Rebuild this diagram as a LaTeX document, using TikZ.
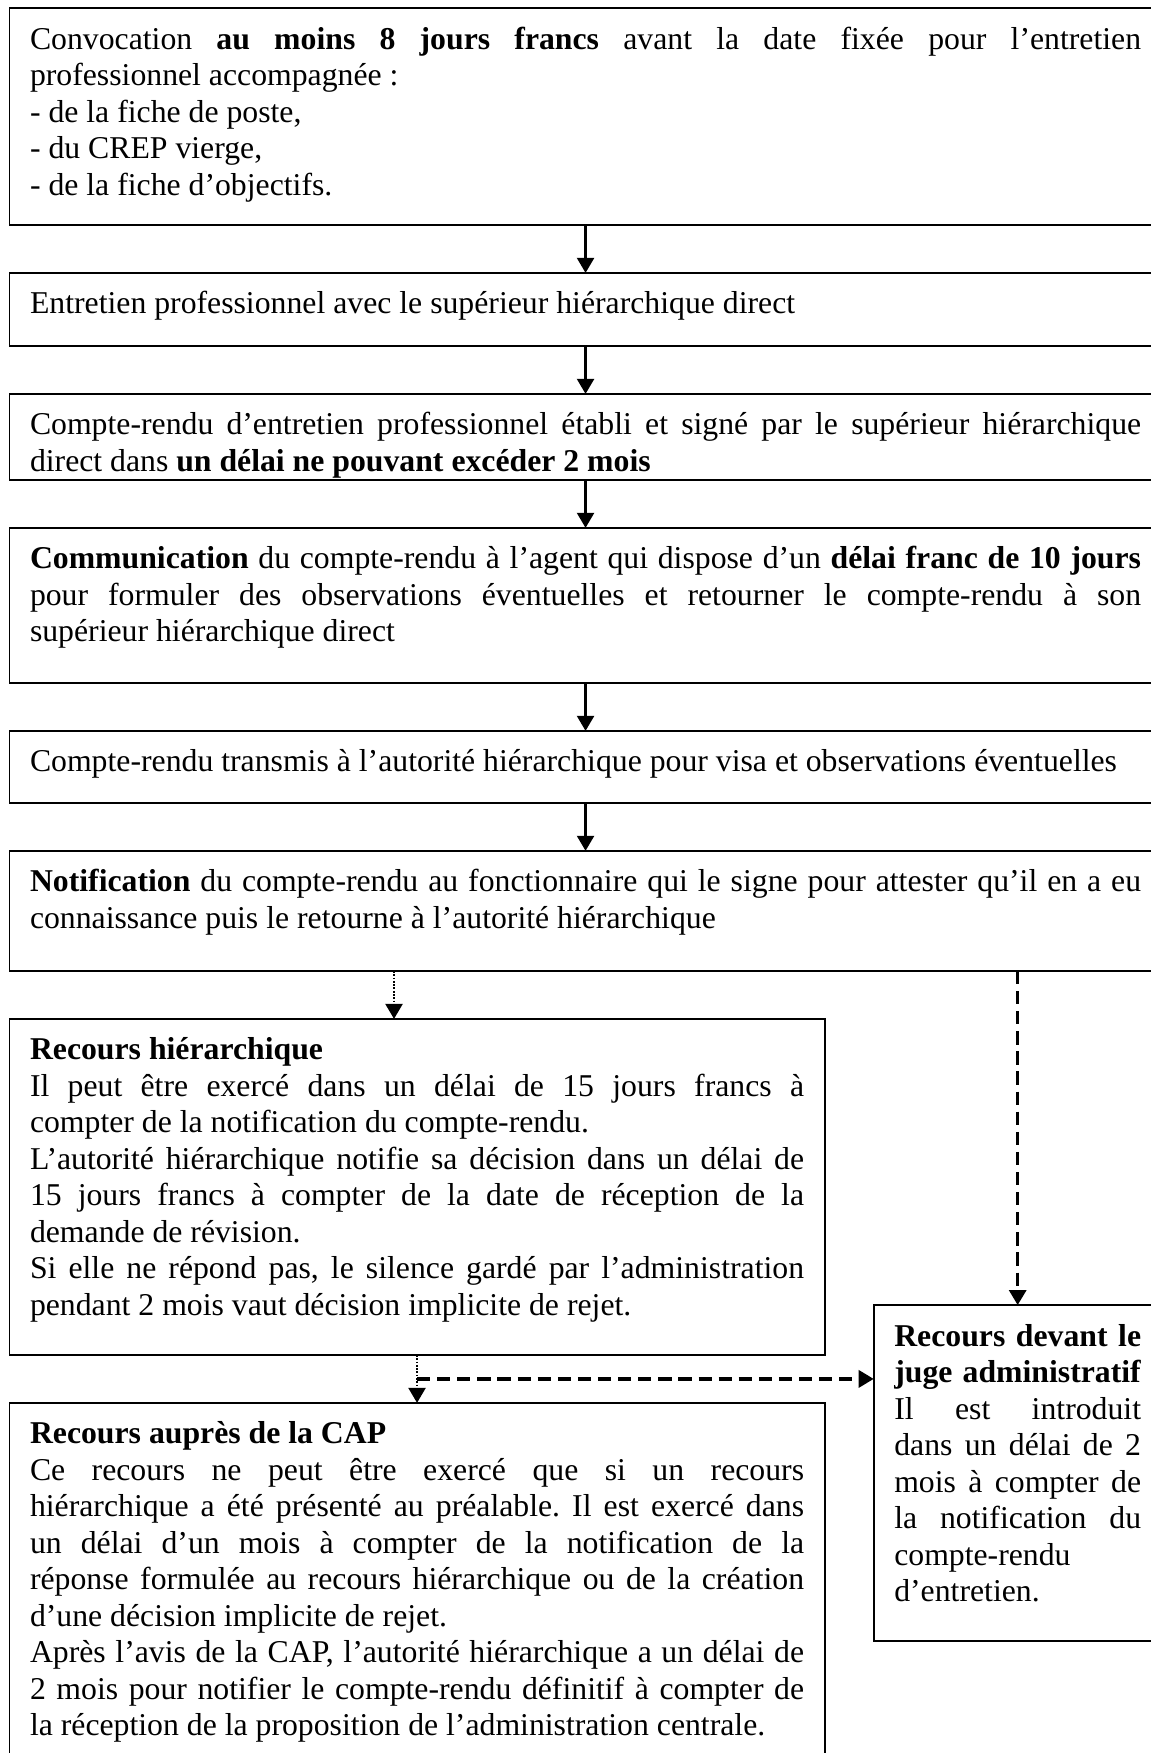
\documentclass[tikz,border=0pt]{standalone}
\usepackage{fontspec}
\setmainfont{Liberation Serif}
\usetikzlibrary{positioning, calc, arrows.meta}

\begin{document}
\begin{tikzpicture}[
    x=0.378pt, y=-0.378pt,
    node distance=18.14pt,
    boite/.style={draw, line width=0.75pt, anchor=north west, outer sep=0pt, align=justify,
      inner xsep=7.75pt, inner ysep=5.8pt, text height=9.7pt, text depth=#1,
      font={\fontsize{12pt}{13.8pt}\selectfont\frenchspacing\tolerance10000\relax\hyphenpenalty10000\relax}},
    pleine/.style={text width=420pt},
    demi/.style={text width=292.6pt},
    etroite/.style={text width=93.3pt},
    fleche/.style={line width=1pt, -{Triangle[length=5.7pt, width=6.4pt]}},
    pointille/.style={fleche, line width=1pt, dash pattern=on 0.65pt off 0.6pt},
    tirets/.style={fleche, line width=1.3pt, dash pattern=on 5pt off 2.6pt}
  ]

  \path[use as bounding box, clip] (0,0) rectangle (1151,1753);

  \node[boite=60.7pt, pleine] (convoc) at (9.5,8) {Convocation \textbf{au moins 8 jours francs} avant la date fixée pour l’entretien\linebreak
    professionnel accompagnée :\\
    - de la fiche de poste,\\
    - du CREP vierge,\\
    - de la fiche d’objectifs.};

  \node[boite=6.3pt, pleine, below=of convoc] (entretien) {Entretien professionnel avec le supérieur hiérarchique direct};

  \node[boite=11.2pt, pleine, below=of entretien] (cr) {Compte-rendu d’entretien professionnel établi et signé par le supérieur hiérarchique\linebreak
    direct dans \textbf{un délai ne pouvant excéder 2 mois}};

  \node[boite=37.3pt, pleine, below=of cr] (comm) {\textbf{Communication} du compte-rendu à l’agent qui dispose d’un \textbf{délai franc de 10 jours}\linebreak
    pour formuler des observations éventuelles et retourner le compte-rendu à son\linebreak
    supérieur hiérarchique direct};

  \node[boite=5.9pt, pleine, below=of comm] (visa) {Compte-rendu transmis à l’autorité hiérarchique pour visa et observations éventuelles};

  \node[boite=24.1pt, pleine, below=of visa] (notif) {\textbf{Notification} du compte-rendu au fonctionnaire qui le signe pour attester qu’il en a eu\linebreak
    connaissance puis le retourne à l’autorité hiérarchique};

  \node[boite=105.7pt, demi, below right=18.14pt and 0pt of notif.south west] (hier) {\textbf{Recours hiérarchique}\\
    Il peut être exercé dans un délai de 15 jours francs à\linebreak
    compter de la notification du compte-rendu.\\
    L’autorité hiérarchique notifie sa décision dans un délai de\linebreak
    15 jours francs à compter de la date de réception de la\linebreak
    demande de révision.\\
    Si elle ne répond pas, le silence gardé par l’administration\linebreak
    pendant 2 mois vaut décision implicite de rejet.};

  \node[boite=118.6pt, demi, below=of hier] (cap) {\textbf{Recours auprès de la CAP}\\
    Ce recours ne peut être exercé que si un recours\linebreak
    hiérarchique a été présenté au préalable. Il est exercé dans\linebreak
    un délai d’un mois à compter de la notification de la\linebreak
    réponse formulée au recours hiérarchique ou de la création\linebreak
    d’une décision implicite de rejet.\\
    Après l’avis de la CAP, l’autorité hiérarchique a un délai de\linebreak
    2 mois pour notifier le compte-rendu définitif à compter de\linebreak
    la réception de la proposition de l’administration centrale.};

  \node[boite=105.7pt, etroite, below left=126.3pt and 0pt of notif.south east] (juge) {\textbf{Recours devant le}\linebreak
    \textbf{juge administratif}\linebreak
    Il est introduit\linebreak
    dans un délai de 2\linebreak
    mois à compter de\linebreak
    la notification du\linebreak
    compte-rendu\\
    d’entretien.};

  \draw[fleche] (convoc) -- (entretien);
  \draw[fleche] (entretien) -- (cr);
  \draw[fleche] (cr) -- (comm);
  \draw[fleche] (comm) -- (visa);
  \draw[fleche] (visa) -- (notif);

  \coordinate (pt) at ([xshift=-8.7pt]hier.north);
  \draw[pointille] (notif.south -| pt) -- (pt);
  \draw[tirets] (notif.south -| juge.north) -- (juge.north);

  \draw[pointille] (hier.south) -- (cap.north);
  \coordinate (jonction) at ($(hier.south)!0.5!(cap.north)$);
  \draw[tirets] (jonction) -- (jonction -| juge.west);

\end{tikzpicture}
\end{document}
